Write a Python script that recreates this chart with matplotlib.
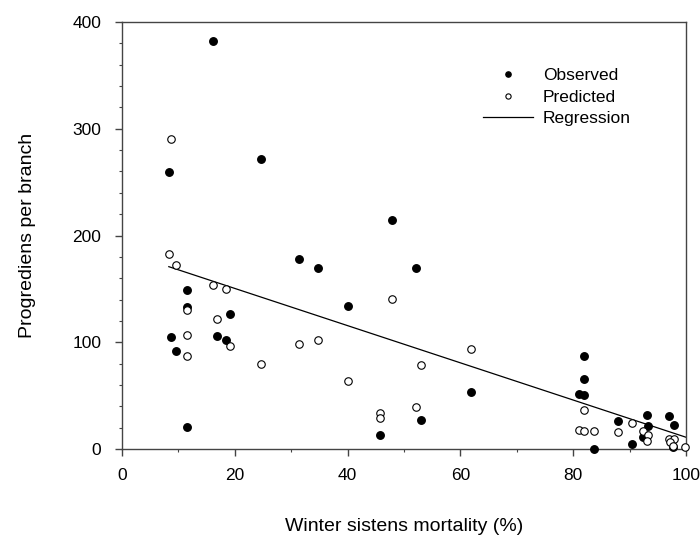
import matplotlib
matplotlib.use("Agg")
import matplotlib.pyplot as plt
import numpy as np

plt.rcParams['font.family'] = ['Liberation Sans', 'DejaVu Sans']

# observed points (mortality %, progrediens per branch)
obs_x = [8.3, 8.6, 9.5, 11.5, 11.5, 11.5, 16.2, 16.9, 18.4, 19.1, 24.6, 31.4,
         34.7, 40.1, 45.8, 47.9, 52.2, 53.0, 61.8, 81.0, 82.0, 82.0, 82.0, 83.6,
         88.0, 90.4, 93.0, 93.3, 92.4, 96.9, 97.9, 97.7]
obs_y = [259.5, 105, 92, 148.6, 133.3, 20.3, 382.5, 106, 102, 126.5, 272, 178,
         170, 134, 13, 214.5, 170, 27, 53, 51.8, 87.4, 65.6, 50.3, 0.3,
         26.5, 4.7, 31.8, 21.2, 10.9, 30.6, 22.8, 1.6]

# predicted points
pred_x = [8.3, 8.6, 9.5, 11.5, 11.5, 11.5, 16.2, 16.9, 18.4, 19.2, 24.6, 31.4,
          34.7, 40.1, 45.8, 45.8, 47.9, 52.2, 53.0, 61.8, 81.0, 82.0, 82.0, 83.6,
          88.0, 90.4, 92.4, 93.3, 93.0, 96.9, 97.9, 97.2, 97.7, 99.8]
pred_y = [182.7, 290.7, 172.4, 130, 106.8, 87.4, 153.3, 121.8, 149.6, 96.5, 79.3, 98,
          102, 63.4, 34, 29, 140.5, 39.7, 78.7, 93.4, 17.8, 36.5, 17.2, 16.5,
          16.2, 24, 16.9, 12.8, 7.5, 9, 9.4, 6.6, 3.1, 2.2]

# regression line end points
reg_x = [8.3, 100]
reg_y = [170.8, 11.0]

fig = plt.figure(figsize=(7.0, 5.37), dpi=100)
ax = fig.add_axes([0.1743, 0.1639, 0.8057, 0.7951])

ax.plot(obs_x, obs_y, 'o', color='black', ms=5.4, mec='black', label='Observed', clip_on=False, zorder=3)
ax.plot(pred_x, pred_y, 'o', mfc='white', mec='black', mew=0.8, ms=5.4, label='Predicted', clip_on=False, zorder=3)
ax.plot(reg_x, reg_y, '-', color='black', lw=0.9, label='Regression', zorder=2)

ax.set_xlim(0, 100)
ax.set_ylim(0, 400)
ax.set_xticks(np.arange(0, 101, 20))
ax.set_xticks(np.arange(0, 101, 10), minor=True)
ax.set_yticks(np.arange(0, 401, 100))
ax.set_yticks(np.arange(0, 401, 20), minor=True)

for s in ax.spines.values():
    s.set_color('#444444')
    s.set_linewidth(1.0)
ax.tick_params(which='major', length=5, width=1.0, color='#444444', labelsize=12.5)
ax.tick_params(axis='x', which='major', pad=8.5)
ax.tick_params(axis='y', which='major', pad=10)
ax.tick_params(which='minor', length=2.5, width=0.8, color='#444444')

ax.set_xlabel('Winter sistens mortality (%)', fontsize=14)
ax.set_ylabel('Progrediens per branch', fontsize=14)
ax.xaxis.set_label_coords(0.5, -0.162)
ax.yaxis.set_label_coords(-0.152, 0.5)

leg = ax.legend(loc='upper left', bbox_to_anchor=(0.64, 0.893), frameon=False,
                fontsize=12.5, handlelength=2.9, handletextpad=0.55, labelspacing=0.38,
                borderpad=0, borderaxespad=0, markerscale=0.7)

fig.savefig('out.png', dpi=100)
